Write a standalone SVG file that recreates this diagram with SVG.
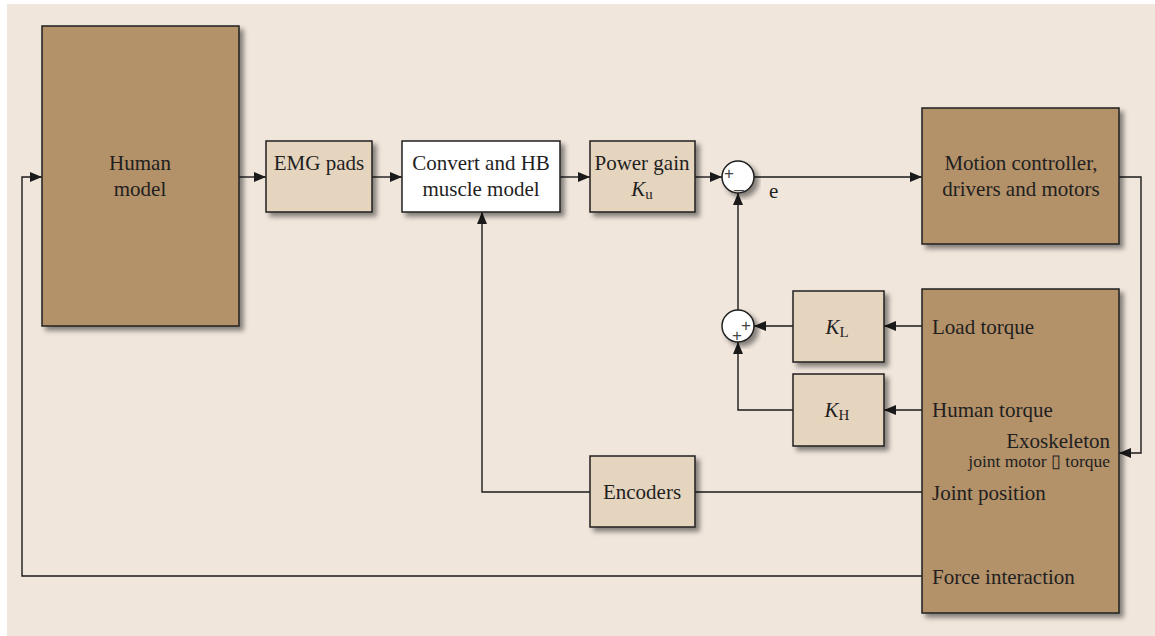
<svg xmlns="http://www.w3.org/2000/svg" width="1155" height="636" viewBox="0 0 1155 636">
<defs>
<filter id="sh" x="-10%" y="-10%" width="130%" height="130%">
<feDropShadow dx="4" dy="4" stdDeviation="2.5" flood-color="#000" flood-opacity="0.45"/>
</filter>
<marker id="ar" viewBox="0 0 12 10" refX="12" refY="5" markerWidth="12" markerHeight="10" markerUnits="userSpaceOnUse" orient="auto">
<path d="M0,0 L12,5 L0,10 Z" fill="#1a1a1a"/>
</marker>
<style>
.dark{fill:#B39169;stroke:#1f1f1f;stroke-width:1.5;filter:url(#sh)}
.light{fill:#E5D4BE;stroke:#1f1f1f;stroke-width:1.5;filter:url(#sh)}
.white{fill:#FFFFFF;stroke:#1f1f1f;stroke-width:1.5;filter:url(#sh)}
.sum{fill:#FFFFFF;stroke:#1f1f1f;stroke-width:1.5;filter:url(#sh)}
text{font-family:"Liberation Serif","Times New Roman",serif;font-size:21px;fill:#1f1f1f}
.c{text-anchor:middle}
.sm{font-size:17.5px}
.sign{font-family:"Liberation Sans",Arial,sans-serif;font-size:17px;fill:#444}
.ln{fill:none;stroke:#1a1a1a;stroke-width:1.4}
.arr{marker-end:url(#ar)}
</style>
</defs>
<rect x="0" y="0" width="1155" height="636" fill="#FFFFFF"/>
<rect x="7" y="4" width="1148" height="632" fill="#F0E6DC"/>

<g id="connectors">
<path class="ln arr" d="M922,576 H22 V177 H42"/>
<path class="ln arr" d="M239,177 H266"/>
<path class="ln arr" d="M372,177 H402"/>
<path class="ln arr" d="M560,177 H590"/>
<path class="ln arr" d="M695,177 H722"/>
<path class="ln arr" d="M754,177 H922"/>
<path class="ln arr" d="M1119,177 H1141 V453 H1119"/>
<path class="ln arr" d="M922,326 H884"/>
<path class="ln arr" d="M793,326 H754"/>
<path class="ln arr" d="M922,410 H884"/>
<path class="ln arr" d="M793,410 H738 V342"/>
<path class="ln arr" d="M738,310 V193"/>
<path class="ln" d="M922,492 H695"/>
<path class="ln arr" d="M590,492 H482 V212"/>
</g>

<g id="human-model">
<rect class="dark" x="42" y="26" width="197" height="300"/>
<text class="c" x="140" y="170">Human</text>
<text class="c" x="140" y="196">model</text>
</g>

<g id="emg-pads">
<rect class="light" x="266" y="141" width="106" height="71"/>
<text class="c" x="319" y="170">EMG pads</text>
</g>

<g id="convert-hb">
<rect class="white" x="402" y="141" width="158" height="71"/>
<text class="c" x="481" y="170">Convert and HB</text>
<text class="c" x="481" y="196">muscle model</text>
</g>

<g id="power-gain">
<rect class="light" x="590" y="141" width="105" height="71"/>
<text class="c" x="642" y="170">Power gain</text>
<text class="c" x="642" y="196"><tspan font-style="italic">K</tspan><tspan font-size="15" dy="3">u</tspan></text>
</g>

<g id="sum1">
<circle class="sum" cx="738" cy="177" r="16"/>
<text class="sign" x="729" y="179" text-anchor="middle">+</text>
<text class="sign" x="739" y="188" text-anchor="middle">_</text>
</g>
<g id="label-e">
<text x="769" y="198">e</text>
</g>

<g id="motion-controller">
<rect class="dark" x="922" y="108" width="197" height="136"/>
<text class="c" x="1021" y="170">Motion controller,</text>
<text class="c" x="1021" y="196">drivers and motors</text>
</g>

<g id="sum2">
<circle class="sum" cx="738" cy="326" r="16"/>
<text class="sign" x="746" y="331" text-anchor="middle">+</text>
<text class="sign" x="737" y="341" text-anchor="middle">+</text>
</g>

<g id="kl">
<rect class="light" x="793" y="291" width="91" height="71"/>
<text class="c" x="837" y="334"><tspan font-style="italic">K</tspan><tspan font-size="15" dy="3">L</tspan></text>
</g>

<g id="kh">
<rect class="light" x="793" y="374" width="91" height="72"/>
<text class="c" x="837" y="417"><tspan font-style="italic">K</tspan><tspan font-size="15" dy="3">H</tspan></text>
</g>

<g id="encoders">
<rect class="light" x="590" y="456" width="105" height="71"/>
<text class="c" x="642" y="499">Encoders</text>
</g>

<g id="exoskeleton">
<rect class="dark" x="922" y="289" width="197" height="324"/>
<text x="932" y="334">Load torque</text>
<text x="932" y="417">Human torque</text>
<text x="1110" y="448" text-anchor="end">Exoskeleton</text>
<text class="sm" x="1110" y="467" text-anchor="end">joint motor ▯ torque</text>
<text x="932" y="500">Joint position</text>
<text x="932" y="584">Force interaction</text>
</g>
</svg>
